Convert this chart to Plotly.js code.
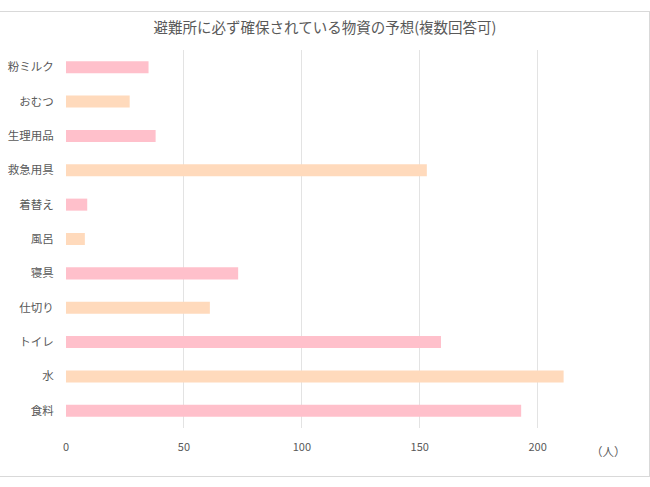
<!DOCTYPE html>
<html>
<head>
<meta charset="utf-8">
<script src="https://cdn.plot.ly/plotly-3.0.1.min.js"></script>
<style>
  body { margin: 0; background: #fff; }
  #wrap { position: relative; width: 650px; height: 487px; }
  #chart { position: absolute; left: 0; top: 0; width: 650px; height: 487px; }
  #frame { position: absolute; left: -1px; top: 11px; width: 649px; height: 464px;
           border: 1px solid #d9d9d9; pointer-events: none; }
</style>
</head>
<body>
<div id="wrap">
  <div id="chart"></div>
  <div id="frame"></div>
</div>
<script>
// bottom to top, as drawn
var items = ['食料', '水', 'トイレ', '仕切り', '寝具', '風呂', '着替え', '救急用具', '生理用品', 'おむつ', '粉ミルク'];
var counts = [193, 211, 159, 61, 73, 8, 9, 153, 38, 27, 35];
var barColors = ['#ffc0cb', '#ffdabc'];

var font = 'Noto Sans CJK JP, sans-serif';

var trace = {
    y: items,
    x: counts,
    type: 'bar',
    orientation: 'h',
    marker: {
        color: items.map(function (d, i) { return barColors[i % 2]; })
    },
    hoverinfo: 'x+y'
};

var layout = {
    width: 650,
    height: 487,
    margin: {t: 50, b: 59, l: 65.5, r: 17.5},
    paper_bgcolor: 'rgba(0,0,0,0)',
    plot_bgcolor: 'rgba(0,0,0,0)',
    bargap: 0.65,
    showlegend: false,
    title: {
        text: '避難所に必ず確保されている物資の予想(複数回答可)',
        font: {family: font, size: 14.5, color: '#595959'},
        x: 0.5,
        xanchor: 'center',
        y: 1 - 28 / 487,
        yanchor: 'middle',
        yref: 'container'
    },
    xaxis: {
        range: [0, 240],
        dtick: 50,
        showgrid: true,
        gridcolor: '#e3e3e3',
        gridwidth: 1,
        zeroline: false,
        showline: false,
        ticks: 'outside',
        ticklen: 9,
        tickcolor: 'rgba(0,0,0,0)',
        tickfont: {family: font, size: 11, color: '#595959'}
    },
    yaxis: {
        showgrid: false,
        zeroline: false,
        showline: false,
        ticks: 'outside',
        ticklen: 9,
        tickcolor: 'rgba(0,0,0,0)',
        tickfont: {family: font, size: 11.5, color: '#595959'}
    },
    annotations: [{
        text: '（人）',
        xref: 'paper', yref: 'paper',
        x: 609 / 650 > 1 ? 1 : (609 - 65.5) / 567, y: -(451 - 428) / 378,
        xanchor: 'center', yanchor: 'middle',
        showarrow: false,
        font: {family: font, size: 11.5, color: '#595959'}
    }]
};

Plotly.newPlot('chart', [trace], layout, {displayModeBar: false});
</script>
</body>
</html>
